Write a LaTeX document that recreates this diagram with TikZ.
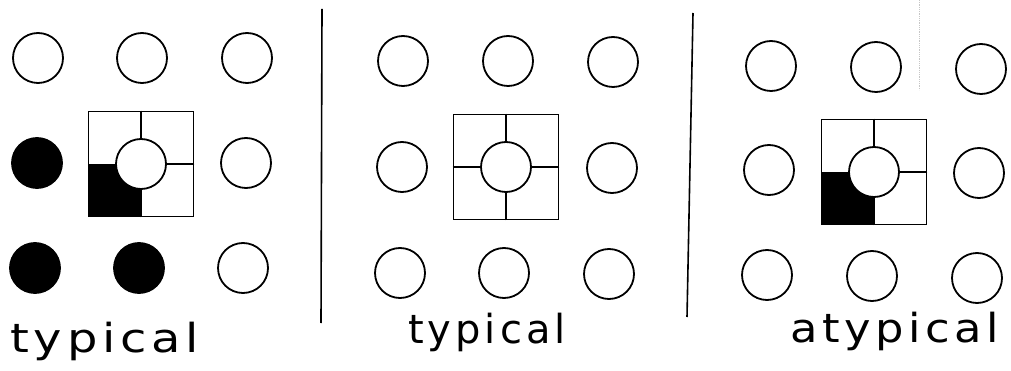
\documentclass[tikz,border=0pt]{standalone}
\usepackage{fontspec}
\newfontfamily\hand[LetterSpace=10]{DejaVu Sans}
\begin{document}
\begin{tikzpicture}[x=1pt,y=-1pt,
  dot/.style={circle,draw,line width=1.8pt,minimum size=50pt,inner sep=0pt},
  full/.style={dot,fill=black},
  empty/.style={dot,fill=white},
  cell/.style={draw,line width=1.8pt,minimum size=105pt,inner sep=0pt},
  spoke/.style={line width=1.8pt},
  sep/.style={line width=1.6pt},
  hw/.style={font=\hand\fontsize{40}{40}\selectfont,inner sep=0pt,anchor=base west}]
\useasboundingbox (0,0) rectangle (1011,371);

% ---------- panel 1 ----------
\node[empty] (a11) at (38,58) {};
\node[empty] (a12) at (142,58) {};
\node[empty] (a13) at (247,58) {};
\node[full]  (a21) at (37,163) {};
\node[cell]  (aq)  at (141,164) {};
\fill (aq.south west) rectangle (aq.center);
\node[empty] (ac) at (aq.center) {};
\draw[spoke] (aq.north) -- (ac.north) (aq.east) -- (ac.east) (aq.south) -- (ac.south);
\node[empty] (a23) at (246,163) {};
\node[full]  (a31) at (35,268) {};
\node[full]  (a32) at (139,268) {};
\node[empty] (a33) at (243,268) {};
\node[hw,xscale=1.2] (la) at (10,352) {typical};

\coordinate (s1t) at (322,9);
\coordinate (s1b) at (321,323);
\draw[sep] (s1t) -- (s1b);

% ---------- panel 2 ----------
\node[empty] (b11) at (403,61) {};
\node[empty] (b12) at (508,61) {};
\node[empty] (b13) at (613,62) {};
\node[empty] (b21) at (402,167) {};
\node[cell]  (bq)  at (506,167) {};
\node[empty] (bc) at (bq.center) {};
\draw[spoke] (bq.north) -- (bc.north) (bq.east) -- (bc.east) (bq.south) -- (bc.south) (bq.west) -- (bc.west);
\node[empty] (b23) at (612,168) {};
\node[empty] (b31) at (400,273) {};
\node[empty] (b32) at (504,273) {};
\node[empty] (b33) at (609,274) {};
\node[hw,xscale=1.0] (lb) at (408,343) {typical};

\coordinate (s2t) at (693,13);
\coordinate (s2b) at (687,317);
\draw[sep] (s2t) -- (s2b);
\coordinate (ft) at (919,0);
\coordinate (fb) at (919,90);
\draw[gray!45,line width=0.8pt,densely dotted] (ft) -- (fb);

% ---------- panel 3 ----------
\node[empty] (c11) at (771,66) {};
\node[empty] (c12) at (876,67) {};
\node[empty] (c13) at (981,69) {};
\node[empty] (c21) at (769,170) {};
\node[cell]  (cq)  at (874,172) {};
\fill (cq.south west) rectangle (cq.center);
\node[empty] (cc) at (cq.center) {};
\draw[spoke] (cq.north) -- (cc.north) (cq.east) -- (cc.east) (cq.south) -- (cc.south);
\node[empty] (c23) at (979,173) {};
\node[empty] (c31) at (767,275) {};
\node[empty] (c32) at (872,276) {};
\node[empty] (c33) at (977,278) {};
\node[hw,xscale=1.12] (lc) at (790,342) {atypical};
\end{tikzpicture}
\end{document}
